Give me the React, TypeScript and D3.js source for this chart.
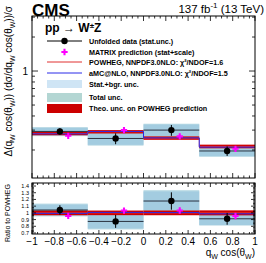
import React from "react";
import * as d3 from "d3";

// bins of q_W cos(theta_W)
const binEdges = [-1, -0.5, 0, 0.5, 1];
const dataVals = [0.292, 0.253, 0.3, 0.196];
const dataStat = [0.02, 0.028, 0.033, 0.019];
const statBgrUnc = [0.023, 0.031, 0.037, 0.02];
const totalUnc = [0.027, 0.035, 0.042, 0.022];
const powhegVals = [0.28, 0.29, 0.255, 0.215];
const powhegTheoUnc = [0.01, 0.01, 0.009, 0.008];
const amcVals = [0.278, 0.292, 0.256, 0.212];
const matrixVals = [0.267, 0.3, 0.264, 0.205];

const xTickLabels = [-1, -0.8, -0.6, -0.4, -0.2, 0, 0.2, 0.4, 0.6, 0.8, 1];
const ratioTickLabels = [0.7, 0.8, 0.9, 1, 1.1, 1.2, 1.3, 1.4];
const logMinorTicks = [0.2, 0.3, 0.4, 0.5, 0.6, 0.7, 0.8, 0.9, 2, 3];

const W = 266, H = 263;
const xL = 32, xR = 255;
const topT = 16, topB = 178, ratT = 183, ratB = 234;
const font = "'Liberation Sans', Arial, Helvetica, sans-serif";

const x = d3.scaleLinear().domain([-1, 1]).range([xL, xR]);
const yTop = d3.scaleLog().domain([0.113, 3.07]).range([topB, topT]);
const yRat = d3.scaleLinear().domain([0.685, 1.445]).range([ratB, ratT]);

const bins = d3.range(4).map((i) => ({
  x0: binEdges[i],
  x1: binEdges[i + 1],
  c: (binEdges[i] + binEdges[i + 1]) / 2,
  i,
}));

const stepPath = (vals: number[], y: (v: number) => number) =>
  d3
    .line<number>()
    .curve(d3.curveStepAfter)
    .x((e) => x(e))
    .y((e, k) => y(vals[Math.min(k, vals.length - 1)]))(binEdges) || "";

const cross = d3.symbol(d3.symbolCross, 22)() || "";

// text with subscript/superscript pieces: [text, "sub" | "sup" | undefined]
type Part = [string, string?];
const Rich = ({ parts, size }: { parts: Part[]; size: number }) => {
  let shift = 0;
  return (
    <>
      {parts.map(([t, kind], k) => {
        const target = kind === "sub" ? size * 0.3 : kind === "sup" ? -size * 0.4 : 0;
        const dy = target - shift;
        shift = target;
        return (
          <tspan key={k} dy={dy} fontSize={kind ? size * 0.7 : size}>
            {t}
          </tspan>
        );
      })}
    </>
  );
};

const XTicks = ({ y0, y1, major, minor }: { y0: number; y1: number; major: number; minor: number }) => {
  const minors = d3.range(-1, 1.0001, 0.05);
  return (
    <g stroke="#000" strokeWidth={0.8}>
      {minors.map((v, k) => {
        const len = Math.abs(Math.round(v * 100) % 20) === 0 ? major : minor;
        return (
          <g key={k}>
            <line x1={x(v)} x2={x(v)} y1={y1} y2={y1 - len} />
            <line x1={x(v)} x2={x(v)} y1={y0} y2={y0 + len} />
          </g>
        );
      })}
    </g>
  );
};

const Panel = ({ ratio }: { ratio: boolean }) => {
  const y = ratio ? yRat : yTop;
  const norm = (v: number, i: number) => (ratio ? v / powhegVals[i] : v);
  const center = ratio ? dataVals.map((v, i) => v / powhegVals[i]) : dataVals;
  const theoC = ratio ? powhegVals.map(() => 1) : powhegVals;
  return (
    <g>
      {/* total unc (outer) and stat+bgr unc (inner) */}
      {bins.map((b) => (
        <rect
          key={"t" + b.i}
          x={x(b.x0)}
          width={x(b.x1) - x(b.x0)}
          y={y(center[b.i] + norm(totalUnc[b.i], b.i))}
          height={y(center[b.i] - norm(totalUnc[b.i], b.i)) - y(center[b.i] + norm(totalUnc[b.i], b.i))}
          fill="#c4e0e8"
        />
      ))}
      {bins.map((b) => (
        <rect
          key={"s" + b.i}
          x={x(b.x0)}
          width={x(b.x1) - x(b.x0)}
          y={y(center[b.i] + norm(statBgrUnc[b.i], b.i))}
          height={y(center[b.i] - norm(statBgrUnc[b.i], b.i)) - y(center[b.i] + norm(statBgrUnc[b.i], b.i))}
          fill="#a3cce0"
        />
      ))}
      {/* theory band on POWHEG */}
      {bins.map((b) => (
        <rect
          key={"r" + b.i}
          x={x(b.x0)}
          width={x(b.x1) - x(b.x0)}
          y={y(theoC[b.i] + norm(powhegTheoUnc[b.i], b.i))}
          height={y(theoC[b.i] - norm(powhegTheoUnc[b.i], b.i)) - y(theoC[b.i] + norm(powhegTheoUnc[b.i], b.i))}
          fill="#d00000"
        />
      ))}
      <path d={stepPath(theoC, y)} fill="none" stroke="#e84040" strokeWidth={0.8} />
      <path
        d={stepPath(amcVals.map((v, i) => norm(v, i)), y)}
        fill="none"
        stroke="#2a2ae8"
        strokeWidth={1}
      />
      {/* data */}
      {bins.map((b) => (
        <g key={"d" + b.i}>
          <line x1={x(b.x0)} x2={x(b.x1)} y1={y(center[b.i])} y2={y(center[b.i])} stroke="#2b3340" strokeWidth={1} />
          <line
            x1={x(b.c)}
            x2={x(b.c)}
            y1={y(center[b.i] + norm(dataStat[b.i], b.i))}
            y2={y(center[b.i] - norm(dataStat[b.i], b.i))}
            stroke="#000"
            strokeWidth={1}
          />
          <circle cx={x(b.c)} cy={y(center[b.i])} r={3.2} fill="#000" />
          <path
            d={cross}
            transform={`translate(${x(b.c + 0.075)},${y(norm(matrixVals[b.i], b.i))})`}
            fill="#ff00ff"
          />
        </g>
      ))}
    </g>
  );
};

const legendItems = [
  "Unfolded data (stat.unc.)",
  "MATRIX prediction (stat+scale)",
  "POWHEG, NNPDF3.0NLO: \u03c7\u00b2/NDOF=1.6",
  "aMC@NLO, NNPDF3.0NLO: \u03c7\u00b2/NDOF=1.5",
  "Stat.+bgr. unc.",
  "Total unc.",
  "Theo. unc. on POWHEG prediction",
];
const legendY = [41, 52, 62, 73, 84, 97.5, 108.5];

const Legend = () => {
  const lx0 = 47, lx1 = 82, tx = 89;
  return (
    <g fontFamily={font} fontWeight="bold" fontSize={7.2}>
      <line x1={lx0} x2={lx1} y1={legendY[0]} y2={legendY[0]} stroke="#000" />
      <circle cx={(lx0 + lx1) / 2} cy={legendY[0]} r={3.2} fill="#000" />
      <path d={cross} transform={`translate(${(lx0 + lx1) / 2},${legendY[1]})`} fill="#ff00ff" />
      <line x1={lx0} x2={lx1} y1={legendY[2]} y2={legendY[2]} stroke="#e03030" />
      <line x1={lx0} x2={lx1} y1={legendY[3]} y2={legendY[3]} stroke="#2a2ae8" />
      <rect x={lx0} width={lx1 - lx0} y={legendY[4] - 4} height={8} fill="#cfe5f5" />
      <rect x={lx0} width={lx1 - lx0} y={legendY[5] - 4.5} height={9} fill="#b3d6d3" />
      <rect x={lx0} width={lx1 - lx0} y={legendY[6] - 4.5} height={9} fill="#cc0000" />
      {legendItems.map((t, k) => (
        <text key={k} x={tx} y={legendY[k] + 2.6}>
          {t}
        </text>
      ))}
    </g>
  );
};

const fmt = d3.format("~g");

export default function App() {
  return (
    <svg
      width={W}
      height={H}
      style={{ position: "absolute", left: 0, top: 0, background: "#fff" }}
      fontFamily={font}
    >
      <rect width={W} height={H} fill="#fff" />
      {/* top panel */}
      <Panel ratio={false} />
      <Legend />
      <XTicks y0={topT} y1={topB} major={5} minor={2.5} />
      <g stroke="#000" strokeWidth={0.8}>
        <line x1={xL} x2={xL + 6} y1={yTop(1)} y2={yTop(1)} />
        <line x1={xR} x2={xR - 6} y1={yTop(1)} y2={yTop(1)} />
        {logMinorTicks.map((v) => (
          <g key={v}>
            <line x1={xL} x2={xL + 3} y1={yTop(v)} y2={yTop(v)} />
            <line x1={xR} x2={xR - 3} y1={yTop(v)} y2={yTop(v)} />
          </g>
        ))}
      </g>
      <rect x={xL} y={topT} width={xR - xL} height={topB - topT} fill="none" stroke="#000" strokeWidth={1} />
      <text x={28} y={yTop(1) + 3.5} fontSize={10} textAnchor="end">
        1
      </text>
      <text transform={`translate(12,6) rotate(-90)`} textAnchor="end">
        <Rich
          size={10}
          parts={[
            ["\u0394(q"],
            ["W", "sub"],
            [" cos(\u03b8"],
            ["W", "sub"],
            [")) (d\u03c3/dq"],
            ["W", "sub"],
            [" cos(\u03b8"],
            ["W", "sub"],
            ["))/\u03c3"],
          ]}
        />
      </text>
      <text x={xL} y={15.5} fontSize={17} fontWeight="bold">
        CMS
      </text>
      <text x={264} y={12.5} textAnchor="end">
        <Rich size={11.5} parts={[["137 fb"], ["-1", "sup"], [" (13 TeV)"]]} />
      </text>
      <text x={45} y={32} fontSize={12} fontWeight="bold">
        pp <tspan fontWeight="normal">{"\u2192"}</tspan> W
        <tspan dy={-4.5} fontSize={8}>
          {"\u00b1"}
        </tspan>
        <tspan dy={4.5}>Z</tspan>
      </text>

      {/* ratio panel */}
      <Panel ratio={true} />
      <XTicks y0={ratT} y1={ratB} major={4} minor={2} />
      <g stroke="#000" strokeWidth={0.8}>
        {d3.range(0.7, 1.4401, 0.02).map((v, k) => {
          const len = k % 5 === 0 ? 4 : 2;
          return (
            <g key={k}>
              <line x1={xL} x2={xL + len} y1={yRat(v)} y2={yRat(v)} />
              <line x1={xR} x2={xR - len} y1={yRat(v)} y2={yRat(v)} />
            </g>
          );
        })}
      </g>
      <rect x={xL} y={ratT} width={xR - xL} height={ratB - ratT} fill="none" stroke="#000" strokeWidth={1} />
      {ratioTickLabels.map((v) => (
        <text key={v} x={29} y={yRat(v) + 2} fontSize={5.5} textAnchor="end">
          {fmt(v)}
        </text>
      ))}
      {xTickLabels.map((v) => (
        <text key={v} x={x(v)} y={245} fontSize={10} textAnchor="middle">
          {fmt(v)}
        </text>
      ))}
      <text transform={`translate(9.5,213) rotate(-90)`} textAnchor="middle" fontSize={7}>
        Ratio to POWHEG
      </text>
      <text x={xR} y={256} textAnchor="end">
        <Rich size={10} parts={[["q"], ["W", "sub"], [" cos(\u03b8"], ["W", "sub"], [")"]]} />
      </text>
    </svg>
  );
}
